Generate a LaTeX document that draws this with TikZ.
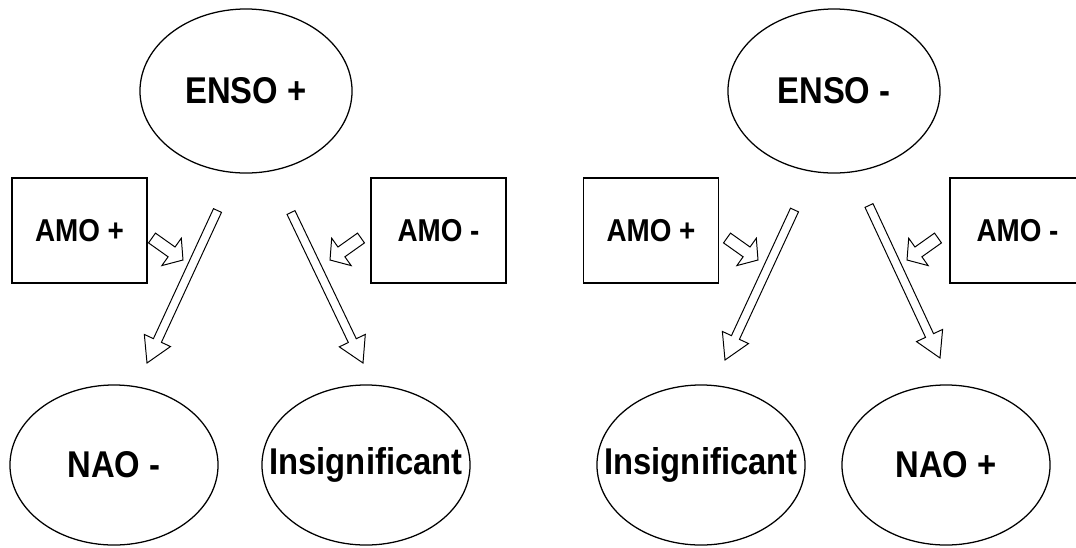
\documentclass[tikz,border=0pt]{standalone}
\usepackage{fontspec}
\newfontfamily\diagfont[FakeStretch=0.88]{Liberation Sans}
\usetikzlibrary{shapes.geometric,calc}

% hollow block arrow: #1 tail, #2 tip, #3 half shaft, #4 half head, #5 head length
\newcommand\blockarrow[5]{%
  \coordinate (hb) at ($(#2)!#5!(#1)$);
  \draw[shell] ($(#1)!#3!90:(#2)$) -- ($(hb)!#3!90:(#2)$) -- ($(hb)!#4!90:(#2)$)
    -- (#2) -- ($(hb)!#4!-90:(#2)$) -- ($(hb)!#3!-90:(#2)$)
    -- ($(#1)!#3!-90:(#2)$) -- cycle;
}
% label that does not widen its ellipse
\newcommand\snug[1]{\makebox[0pt]{#1}}

\begin{document}
\begin{tikzpicture}[
    x=0.025cm, y=-0.025cm,
    state/.style={ellipse, draw=black, line width=0.9pt, inner sep=0pt,
      minimum width=5.3cm, minimum height=4.1cm,
      font=\diagfont\bfseries\fontsize{26.5}{30}\selectfont},
    outcome/.style={state, minimum width=5.2cm, minimum height=4.0cm},
    phase/.style={rectangle, draw=black, line width=0.9pt, inner sep=0pt,
      minimum width=3.375cm, minimum height=2.625cm,
      font=\diagfont\bfseries\fontsize{22.5}{26}\selectfont},
    shell/.style={draw=black, line width=0.7pt, line join=miter, fill=white},
  ]
  \useasboundingbox (0,0) rectangle (1076,547);
  \clip (0,0) rectangle (1076,547);

  %% ---------------- warm phase ----------------
  \node[state] (ensoP) at (246,91) {ENSO +};
  \node[phase] (amoPl) at (79.5,230.5) {AMO +};
  \node[phase] (amoMl) at (438.5,230.5) {AMO -};
  \node[outcome] (naoM) at (114,465) {NAO -};
  \node[outcome] (insL) at (366,465) {\snug{Insignificant}};

  \coordinate (tA) at (217.5,210.5); \coordinate (hA) at (147,363);
  \coordinate (tB) at (291,212.5);   \coordinate (hB) at (363,363);
  \coordinate (tC) at (152,238);     \coordinate (hC) at (183,260);
  \coordinate (tD) at (361,238);     \coordinate (hD) at (330,260);
  \blockarrow{tA}{hA}{0.11cm}{0.36cm}{0.62cm}
  \blockarrow{tB}{hB}{0.11cm}{0.36cm}{0.62cm}
  \blockarrow{tC}{hC}{0.15cm}{0.42cm}{0.35cm}
  \blockarrow{tD}{hD}{0.15cm}{0.42cm}{0.35cm}

  %% ---------------- cold phase ----------------
  \node[state] (ensoM) at (834,91) {ENSO -};
  \node[phase] (amoPr) at (651,230.5) {AMO +};
  \node[phase] (amoMr) at (1017.5,230.5) {AMO -};
  \node[outcome] (insR) at (701,465) {\snug{Insignificant}};
  \node[outcome] (naoP) at (946,465) {NAO +};

  \coordinate (tE) at (794.5,210);   \coordinate (hE) at (725,360);
  \coordinate (tF) at (869,205.5);   \coordinate (hF) at (940,358);
  \coordinate (tG) at (727,238);     \coordinate (hG) at (758,260);
  \coordinate (tH) at (938,238);     \coordinate (hH) at (907,260);
  \blockarrow{tE}{hE}{0.11cm}{0.36cm}{0.62cm}
  \blockarrow{tF}{hF}{0.11cm}{0.36cm}{0.62cm}
  \blockarrow{tG}{hG}{0.15cm}{0.42cm}{0.35cm}
  \blockarrow{tH}{hH}{0.15cm}{0.42cm}{0.35cm}

\end{tikzpicture}
\end{document}
